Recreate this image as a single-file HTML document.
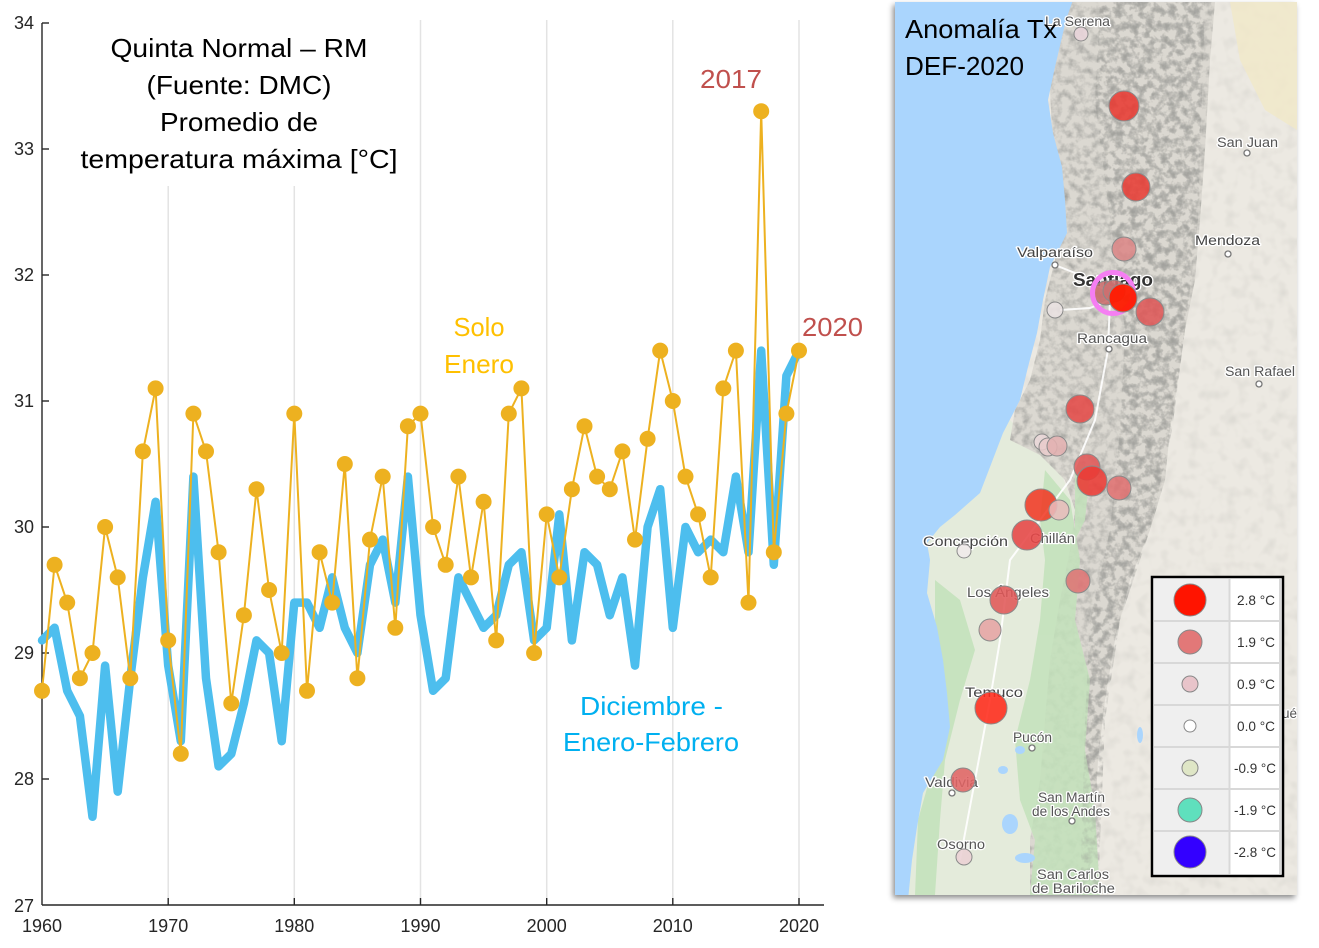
<!DOCTYPE html>
<html><head><meta charset="utf-8"><style>
html,body{margin:0;padding:0;background:#fff;}
svg{display:block;}
</style></head><body>
<svg width="1319" height="948" viewBox="0 0 1319 948" xmlns="http://www.w3.org/2000/svg" font-family="'Liberation Sans', sans-serif">
<defs>
  <clipPath id="mapclip"><rect x="895" y="2" width="402" height="893"/></clipPath>
  <clipPath id="mtnclip"><path d="M1060,2 L1215,2 L1210,60 L1205,150 L1200,220 L1195,280 L1185,330 L1178,380 L1170,430 L1165,480 L1150,530 L1130,580 L1115,640 L1105,700 L1098,760 L1095,820 L1100,895 L1030,895 L1030,840 L1040,780 L1045,720 L1050,660 L1060,600 L1070,550 L1075,510 L1065,480 L1040,455 L1010,440 L1015,410 L1030,380 L1040,340 L1045,300 L1055,260 L1062,230 L1060,180 L1052,130 L1050,90 L1060,40 Z"/></clipPath>
  <clipPath id="ridgeclip"><path d="M1100,2 L1205,2 L1198,220 L1185,330 L1172,430 L1150,530 L1120,620 L1105,720 L1098,895 L1080,895 L1085,720 L1090,620 L1110,530 L1120,430 L1125,330 L1110,220 L1095,100 Z"/></clipPath>
  <filter id="noise" x="895" y="0" width="410" height="900" filterUnits="userSpaceOnUse">
    <feTurbulence type="fractalNoise" baseFrequency="0.13" numOctaves="3" seed="7" result="t"/>
    <feColorMatrix in="t" type="matrix" values="0 0 0 0 0.35  0 0 0 0 0.35  0 0 0 0 0.33  1.8 0 0 0 -0.72"/>
  </filter>
  <filter id="noise2" x="895" y="0" width="410" height="900" filterUnits="userSpaceOnUse">
    <feTurbulence type="fractalNoise" baseFrequency="0.08" numOctaves="2" seed="3" result="t"/>
    <feColorMatrix in="t" type="matrix" values="0 0 0 0 0.45  0 0 0 0 0.45  0 0 0 0 0.42  1.2 0 0 0 -0.55"/>
  </filter>
  <filter id="shadow" x="-10%" y="-10%" width="120%" height="120%">
    <feDropShadow dx="-2" dy="3" stdDeviation="3" flood-color="#000" flood-opacity="0.45"/>
  </filter>
</defs>

<!-- ============ CHART ============ -->
<g stroke="#e3e3e3" stroke-width="1.5">
  <line x1="168.2" y1="186" x2="168.2" y2="905"/>
  <line x1="294.3" y1="186" x2="294.3" y2="905"/>
  <line x1="420.5" y1="20" x2="420.5" y2="905"/>
  <line x1="546.7" y1="20" x2="546.7" y2="905"/>
  <line x1="672.8" y1="20" x2="672.8" y2="905"/>
  <line x1="799" y1="20" x2="799" y2="905"/>
</g>

<g stroke="#262626" stroke-width="1.4" fill="none">
  <line x1="42" y1="23" x2="42" y2="905"/>
  <line x1="42" y1="905" x2="824" y2="905"/>
  <line x1="42" y1="23" x2="49" y2="23"/>
  <line x1="42" y1="149" x2="49" y2="149"/>
  <line x1="42" y1="275" x2="49" y2="275"/>
  <line x1="42" y1="401" x2="49" y2="401"/>
  <line x1="42" y1="527" x2="49" y2="527"/>
  <line x1="42" y1="653" x2="49" y2="653"/>
  <line x1="42" y1="779" x2="49" y2="779"/>
  <line x1="168.2" y1="905" x2="168.2" y2="898"/>
  <line x1="294.3" y1="905" x2="294.3" y2="898"/>
  <line x1="420.5" y1="905" x2="420.5" y2="898"/>
  <line x1="546.7" y1="905" x2="546.7" y2="898"/>
  <line x1="672.8" y1="905" x2="672.8" y2="898"/>
  <line x1="799" y1="905" x2="799" y2="898"/>
</g>
<g fill="#262626" font-size="18" text-anchor="end">
  <text x="34" y="29">34</text>
  <text x="34" y="155">33</text>
  <text x="34" y="281">32</text>
  <text x="34" y="407">31</text>
  <text x="34" y="533">30</text>
  <text x="34" y="659">29</text>
  <text x="34" y="785">28</text>
  <text x="34" y="912">27</text>
</g>
<g fill="#262626" font-size="18" text-anchor="middle">
  <text x="42" y="932">1960</text>
  <text x="168.2" y="932">1970</text>
  <text x="294.3" y="932">1980</text>
  <text x="420.5" y="932">1990</text>
  <text x="546.7" y="932">2000</text>
  <text x="672.8" y="932">2010</text>
  <text x="799" y="932">2020</text>
</g>

<polyline fill="none" stroke="#4dbeee" stroke-width="8.5" stroke-linejoin="round" stroke-linecap="round"
 points="42,640.4 54.6,627.8 67.2,690.8 79.9,716 92.5,816.8 105.1,665.6 117.7,791.6 130.3,678.2 142.9,577.4 155.6,501.8 168.2,665.6 180.8,741.2 193.4,476.6 206,678.2 218.6,766.4 231.3,753.8 243.9,703.4 256.5,640.4 269.1,653 281.7,741.2 294.3,602.6 307,602.6 319.6,627.8 332.2,577.4 344.8,627.8 357.4,653 370,564.8 382.7,539.6 395.3,602.6 407.9,476.6 420.5,615.2 433.1,690.8 445.7,678.2 458.4,577.4 471,602.6 483.6,627.8 496.2,615.2 508.8,564.8 521.4,552.2 534.1,640.4 546.7,627.8 559.3,514.4 571.9,640.4 584.5,552.2 597.1,564.8 609.8,615.2 622.4,577.4 635,665.6 647.6,527 660.2,489.2 672.8,627.8 685.5,527 698.1,552.2 710.7,539.6 723.3,552.2 735.9,476.6 748.5,552.2 761.2,350.6 773.8,564.8 786.4,375.8 799,350.6"/>

<polyline fill="none" stroke="#edb120" stroke-width="2" stroke-linejoin="round"
 points="42,690.8 54.6,564.8 67.2,602.6 79.9,678.2 92.5,653 105.1,527 117.7,577.4 130.3,678.2 142.9,451.4 155.6,388.4 168.2,640.4 180.8,753.8 193.4,413.6 206,451.4 218.6,552.2 231.3,703.4 243.9,615.2 256.5,489.2 269.1,590 281.7,653 294.3,413.6 307,690.8 319.6,552.2 332.2,602.6 344.8,464 357.4,678.2 370,539.6 382.7,476.6 395.3,627.8 407.9,426.2 420.5,413.6 433.1,527 445.7,564.8 458.4,476.6 471,577.4 483.6,501.8 496.2,640.4 508.8,413.6 521.4,388.4 534.1,653 546.7,514.4 559.3,577.4 571.9,489.2 584.5,426.2 597.1,476.6 609.8,489.2 622.4,451.4 635,539.6 647.6,438.8 660.2,350.6 672.8,401 685.5,476.6 698.1,514.4 710.7,577.4 723.3,388.4 735.9,350.6 748.5,602.6 761.2,111.2 773.8,552.2 786.4,413.6 799,350.6"/>
<g fill="#edb120">
<circle cx="42" cy="690.8" r="8"/><circle cx="54.6" cy="564.8" r="8"/><circle cx="67.2" cy="602.6" r="8"/><circle cx="79.9" cy="678.2" r="8"/><circle cx="92.5" cy="653" r="8"/><circle cx="105.1" cy="527" r="8"/><circle cx="117.7" cy="577.4" r="8"/><circle cx="130.3" cy="678.2" r="8"/><circle cx="142.9" cy="451.4" r="8"/><circle cx="155.6" cy="388.4" r="8"/>
<circle cx="168.2" cy="640.4" r="8"/><circle cx="180.8" cy="753.8" r="8"/><circle cx="193.4" cy="413.6" r="8"/><circle cx="206" cy="451.4" r="8"/><circle cx="218.6" cy="552.2" r="8"/><circle cx="231.3" cy="703.4" r="8"/><circle cx="243.9" cy="615.2" r="8"/><circle cx="256.5" cy="489.2" r="8"/><circle cx="269.1" cy="590" r="8"/><circle cx="281.7" cy="653" r="8"/>
<circle cx="294.3" cy="413.6" r="8"/><circle cx="307" cy="690.8" r="8"/><circle cx="319.6" cy="552.2" r="8"/><circle cx="332.2" cy="602.6" r="8"/><circle cx="344.8" cy="464" r="8"/><circle cx="357.4" cy="678.2" r="8"/><circle cx="370" cy="539.6" r="8"/><circle cx="382.7" cy="476.6" r="8"/><circle cx="395.3" cy="627.8" r="8"/><circle cx="407.9" cy="426.2" r="8"/>
<circle cx="420.5" cy="413.6" r="8"/><circle cx="433.1" cy="527" r="8"/><circle cx="445.7" cy="564.8" r="8"/><circle cx="458.4" cy="476.6" r="8"/><circle cx="471" cy="577.4" r="8"/><circle cx="483.6" cy="501.8" r="8"/><circle cx="496.2" cy="640.4" r="8"/><circle cx="508.8" cy="413.6" r="8"/><circle cx="521.4" cy="388.4" r="8"/><circle cx="534.1" cy="653" r="8"/>
<circle cx="546.7" cy="514.4" r="8"/><circle cx="559.3" cy="577.4" r="8"/><circle cx="571.9" cy="489.2" r="8"/><circle cx="584.5" cy="426.2" r="8"/><circle cx="597.1" cy="476.6" r="8"/><circle cx="609.8" cy="489.2" r="8"/><circle cx="622.4" cy="451.4" r="8"/><circle cx="635" cy="539.6" r="8"/><circle cx="647.6" cy="438.8" r="8"/><circle cx="660.2" cy="350.6" r="8"/>
<circle cx="672.8" cy="401" r="8"/><circle cx="685.5" cy="476.6" r="8"/><circle cx="698.1" cy="514.4" r="8"/><circle cx="710.7" cy="577.4" r="8"/><circle cx="723.3" cy="388.4" r="8"/><circle cx="735.9" cy="350.6" r="8"/><circle cx="748.5" cy="602.6" r="8"/><circle cx="761.2" cy="111.2" r="8"/><circle cx="773.8" cy="552.2" r="8"/><circle cx="786.4" cy="413.6" r="8"/><circle cx="799" cy="350.6" r="8"/>
</g>

<g fill="#000" font-size="26" text-anchor="middle">
  <text x="239" y="57" textLength="257" lengthAdjust="spacingAndGlyphs">Quinta Normal – RM</text>
  <text x="239" y="94" textLength="185" lengthAdjust="spacingAndGlyphs">(Fuente: DMC)</text>
  <text x="239" y="131" textLength="158" lengthAdjust="spacingAndGlyphs">Promedio de</text>
  <text x="239" y="168" textLength="317" lengthAdjust="spacingAndGlyphs">temperatura máxima [°C]</text>
</g>
<g fill="#ffc000" font-size="26" text-anchor="middle">
  <text x="479" y="336" textLength="51" lengthAdjust="spacingAndGlyphs">Solo</text>
  <text x="479" y="373" textLength="70" lengthAdjust="spacingAndGlyphs">Enero</text>
</g>
<g fill="#00b0f0" font-size="26" text-anchor="middle">
  <text x="651.5" y="715" textLength="143" lengthAdjust="spacingAndGlyphs">Diciembre -</text>
  <text x="651" y="751" textLength="176" lengthAdjust="spacingAndGlyphs">Enero-Febrero</text>
</g>
<g fill="#c0504d" font-size="26">
  <text x="700" y="88" textLength="62" lengthAdjust="spacingAndGlyphs">2017</text>
  <text x="802" y="336" textLength="61" lengthAdjust="spacingAndGlyphs">2020</text>
</g>

<!-- ============ MAP ============ -->
<rect x="895" y="2" width="402" height="893" fill="#ece9e2" filter="url(#shadow)"/>
<g clip-path="url(#mapclip)">
  <rect x="895" y="0" width="410" height="900" filter="url(#noise2)" opacity="0.45"/>
  <path d="M1230,2 L1297,2 L1297,130 L1265,110 L1240,60 Z" fill="#f1e8c8" opacity="0.8"/>
  <path d="M1010,420 L1060,470 L1075,510 L1070,560 L1060,620 L1050,700 L1045,780 L1035,840 L1030,895 L895,895 L895,420 Z" fill="#e4ebdb"/>
  <g clip-path="url(#mtnclip)">
    <rect x="895" y="0" width="410" height="900" fill="#dbd8d1"/>
    <rect x="895" y="0" width="410" height="900" filter="url(#noise)"/>
  </g>
  <g clip-path="url(#ridgeclip)" opacity="0.7">
    <rect x="895" y="0" width="410" height="900" filter="url(#noise)"/>
  </g>
  <g fill="#c3e2bb" opacity="0.85">
    <path d="M1045,470 L1070,500 L1080,560 L1075,620 L1090,680 L1085,750 L1095,810 L1100,895 L1030,895 L1035,840 L1020,800 L1015,740 L1030,680 L1040,620 L1045,560 L1040,520 Z"/>
    <path d="M935,580 L960,600 L975,650 L960,700 L945,760 L940,820 L935,895 L915,895 L918,820 L935,760 L945,700 L935,650 Z"/>
    <path d="M1075,460 L1090,470 L1085,520 L1075,540 Z"/>
  </g>
  <g clip-path="url(#ridgeclip)" opacity="0.5">
    <rect x="1060" y="480" width="60" height="420" filter="url(#noise)"/>
  </g>
  <path d="M895,0 L1073,0 L1066,20 L1055,67 L1048,100 L1053,133 L1062,167 L1065,200 L1067,233 L1050,267 L1043,300 L1037,333 L1028,367 L1020,400 L1003,433 L990,467 L980,493 L955,515 L940,527 L927,543 L930,560 L927,593 L937,627 L943,660 L947,693 L950,727 L943,760 L923,793 L917,827 L912,860 L908,900 L895,900 Z" fill="#aad5fd"/>
  <g fill="#aad5fd">
    <ellipse cx="1003" cy="770" rx="5" ry="4"/>
    <ellipse cx="1010" cy="824" rx="8" ry="10"/>
    <ellipse cx="1020" cy="750" rx="5" ry="4"/>
    <ellipse cx="1025" cy="858" rx="10" ry="5"/>
    <ellipse cx="1140" cy="735" rx="3" ry="8"/>
  </g>
  <g stroke="#ffffff" stroke-width="2" fill="none" opacity="0.9">
    <path d="M1055,265 L1080,275 L1105,290"/>
    <path d="M1060,310 L1090,308 L1110,300"/>
    <path d="M1110,300 L1108,350 L1095,420 L1070,480 L1040,520 L1010,560 L1000,640 L990,700 L975,780 L960,860"/>
  </g>

  <g font-size="13.5" fill="#555" stroke="#fff" stroke-width="2.5" paint-order="stroke" stroke-linejoin="round">
    <text x="1045" y="26" textLength="65" lengthAdjust="spacingAndGlyphs">La Serena</text>
    <text x="1217" y="147" textLength="61" lengthAdjust="spacingAndGlyphs">San Juan</text>
    <text x="1195" y="245" textLength="65" lengthAdjust="spacingAndGlyphs" fill="#444">Mendoza</text>
    <text x="1017" y="257" textLength="76" lengthAdjust="spacingAndGlyphs" fill="#444">Valparaíso</text>
    <text x="1077" y="343" textLength="70" lengthAdjust="spacingAndGlyphs">Rancagua</text>
    <text x="1225" y="376" textLength="70" lengthAdjust="spacingAndGlyphs">San Rafael</text>
    <text x="923" y="546" textLength="85" lengthAdjust="spacingAndGlyphs" fill="#444">Concepción</text>
    <text x="1030" y="543" textLength="45" lengthAdjust="spacingAndGlyphs">Chillán</text>
    <text x="967" y="597" textLength="82" lengthAdjust="spacingAndGlyphs">Los Ángeles</text>
    <text x="965" y="697" textLength="58" lengthAdjust="spacingAndGlyphs" fill="#444">Temuco</text>
    <text x="1013" y="742" textLength="39" lengthAdjust="spacingAndGlyphs">Pucón</text>
    <text x="925" y="787" textLength="53" lengthAdjust="spacingAndGlyphs">Valdivia</text>
    <text x="1038" y="802" textLength="67" lengthAdjust="spacingAndGlyphs">San Martín</text>
    <text x="1032" y="816" textLength="78" lengthAdjust="spacingAndGlyphs">de los Andes</text>
    <text x="937" y="849" textLength="48" lengthAdjust="spacingAndGlyphs">Osorno</text>
    <text x="1037" y="879" textLength="72" lengthAdjust="spacingAndGlyphs">San Carlos</text>
    <text x="1032" y="893" textLength="83" lengthAdjust="spacingAndGlyphs">de Bariloche</text>
    <text x="1282" y="718">ué</text>
    <text x="1073" y="286" font-size="18.5" font-weight="bold" fill="#333" textLength="80" lengthAdjust="spacingAndGlyphs">Santiago</text>
  </g>
  <g fill="#fff" stroke="#777" stroke-width="1.3">
    <circle cx="1247" cy="153" r="3"/>
    <circle cx="1228" cy="254" r="3"/>
    <circle cx="1055" cy="265" r="3"/>
    <circle cx="1109" cy="349" r="3"/>
    <circle cx="1259" cy="384" r="3"/>
    <circle cx="1032" cy="748" r="3"/>
    <circle cx="952" cy="793" r="3"/>
    <circle cx="1072" cy="821" r="3"/>
  </g>

  <g stroke="#8a8a8a" stroke-width="1" fill-opacity="0.88">
    <circle cx="1081" cy="34" r="7" fill="#e8d4da"/>
    <circle cx="1124" cy="106" r="15" fill="#e83a32"/>
    <circle cx="1136" cy="187" r="14" fill="#e83e36"/>
    <circle cx="1124" cy="249" r="12" fill="#dc8888"/>
    <circle cx="1055" cy="310" r="8" fill="#ebe3e3"/>
    <circle cx="1106" cy="293" r="12" fill="#c86a6a"/>
    <circle cx="1114" cy="291" r="11" fill="#cc7070"/>
    <circle cx="1150" cy="312" r="14" fill="#de5858"/>
    <circle cx="1080" cy="409" r="14" fill="#e44a48"/>
    <circle cx="1042" cy="442" r="8" fill="#ead8da"/>
    <circle cx="1048" cy="447" r="9" fill="#e8cccc"/>
    <circle cx="1057" cy="446" r="10" fill="#e3b0b0"/>
    <circle cx="1087" cy="467" r="13" fill="#e05858"/>
    <circle cx="1092" cy="481" r="15" fill="#ea3a34"/>
    <circle cx="1119" cy="488" r="12" fill="#e07272"/>
    <circle cx="1041" cy="505" r="16" fill="#f03a26"/>
    <circle cx="1059" cy="510" r="10" fill="#e8bcbc"/>
    <circle cx="1027" cy="535" r="15" fill="#e64545"/>
    <circle cx="964" cy="551" r="7" fill="#f0eaea"/>
    <circle cx="1078" cy="581" r="12" fill="#de7474"/>
    <circle cx="1004" cy="600" r="14" fill="#e05858"/>
    <circle cx="990" cy="630" r="11" fill="#e6a4a4"/>
    <circle cx="991" cy="708" r="16" fill="#ff2a1a"/>
    <circle cx="963" cy="780" r="12" fill="#e06464"/>
    <circle cx="964" cy="857" r="8" fill="#ebd0d4"/>
  </g>
  <circle cx="1113" cy="293" r="20.5" fill="none" stroke="#f57ef2" stroke-width="5"/>
  <circle cx="1123" cy="298" r="14" fill="#ff1a00" stroke="#8a8a8a" stroke-width="1" fill-opacity="0.95"/>

  <g fill="#000" font-size="26">
    <text x="905" y="38" textLength="152" lengthAdjust="spacingAndGlyphs">Anomalía Tx</text>
    <text x="905" y="75" textLength="119" lengthAdjust="spacingAndGlyphs">DEF-2020</text>
  </g>

  <rect x="1152" y="577" width="131" height="299" fill="#fff" stroke="#000" stroke-width="2.5"/>
  <rect x="1154" y="579" width="75" height="295" fill="#efefef"/>
  <g stroke="#d8d8d8" stroke-width="2">
    <line x1="1154" y1="621" x2="1281" y2="621"/>
    <line x1="1154" y1="663" x2="1281" y2="663"/>
    <line x1="1154" y1="705" x2="1281" y2="705"/>
    <line x1="1154" y1="747" x2="1281" y2="747"/>
    <line x1="1154" y1="789" x2="1281" y2="789"/>
    <line x1="1154" y1="831" x2="1281" y2="831"/>
    <line x1="1229.5" y1="579" x2="1229.5" y2="874"/>
    <line x1="1280" y1="579" x2="1280" y2="874"/>
  </g>
  <g stroke="#888" stroke-width="1">
    <circle cx="1190" cy="600" r="16" fill="#ff1400"/>
    <circle cx="1190" cy="642" r="12" fill="#e27878"/>
    <circle cx="1190" cy="684" r="8" fill="#e8c4ca"/>
    <circle cx="1190" cy="726" r="6" fill="#ffffff"/>
    <circle cx="1190" cy="768" r="8" fill="#dfe6c6"/>
    <circle cx="1190" cy="810" r="12" fill="#5fe0bd"/>
    <circle cx="1190" cy="852" r="16" fill="#3300ff"/>
  </g>
  <g fill="#333" font-size="14" text-anchor="end">
    <text x="1275" y="605" textLength="38" lengthAdjust="spacingAndGlyphs">2.8 °C</text>
    <text x="1275" y="647" textLength="38" lengthAdjust="spacingAndGlyphs">1.9 °C</text>
    <text x="1275" y="689" textLength="38" lengthAdjust="spacingAndGlyphs">0.9 °C</text>
    <text x="1275" y="731" textLength="38" lengthAdjust="spacingAndGlyphs">0.0 °C</text>
    <text x="1276" y="773" textLength="42" lengthAdjust="spacingAndGlyphs">-0.9 °C</text>
    <text x="1276" y="815" textLength="42" lengthAdjust="spacingAndGlyphs">-1.9 °C</text>
    <text x="1276" y="857" textLength="42" lengthAdjust="spacingAndGlyphs">-2.8 °C</text>
  </g>
</g>
</svg>
</body></html>
